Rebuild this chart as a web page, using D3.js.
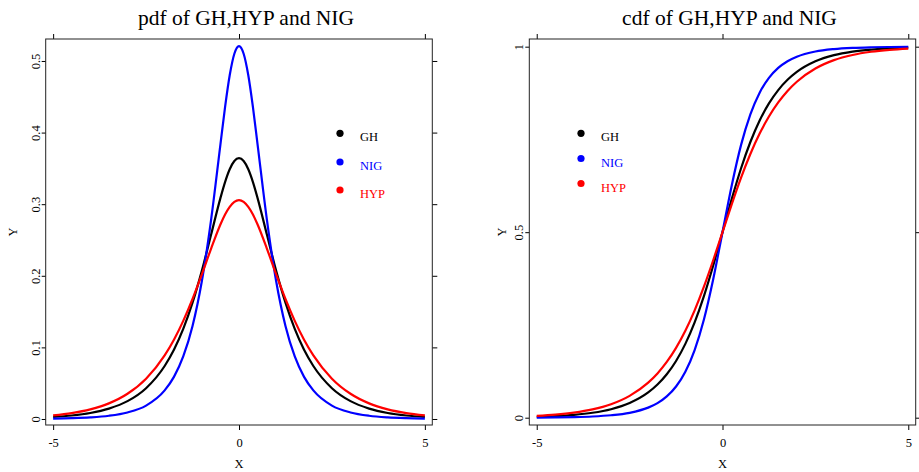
<!DOCTYPE html>
<html>
<head>
<meta charset="utf-8">
<script src="https://cdn.jsdelivr.net/npm/d3@7"></script>
<style>
  html, body { margin: 0; padding: 0; background: #ffffff; }
  svg { display: block; font-family: "Liberation Serif", "Times New Roman", serif; }
</style>
</head>
<body>
<svg id="chart" width="919" height="472"></svg>
<script>
// ---------- data ----------
const seriesNames = ["GH", "NIG", "HYP"];
const seriesColors = ["#000000", "#0000ff", "#ff0000"];

const pdfX = [-5, -4.5, -4, -3.5, -3, -2.5, -2, -1.75, -1.5, -1.25, -1, -0.75, -0.5, -0.375, -0.25, -0.125,
  0, 0.125, 0.25, 0.375, 0.5, 0.75, 1, 1.25, 1.5, 1.75, 2, 2.5, 3, 3.5, 4, 4.5, 5];
const pdfGH = [0.0029, 0.0049, 0.0084, 0.0145, 0.0249, 0.0430, 0.0740, 0.0967, 0.1258, 0.1625, 0.2069, 0.2576, 0.3085, 0.3309, 0.3488, 0.3603,
  0.3643, 0.3603, 0.3488, 0.3309, 0.3085, 0.2576, 0.2069, 0.1625, 0.1258, 0.0967, 0.0740, 0.0430, 0.0249, 0.0145, 0.0084, 0.0049, 0.0029];
const pdfNIG = [0.0006, 0.0012, 0.0023, 0.0045, 0.0091, 0.0187, 0.0399, 0.0588, 0.0873, 0.1299, 0.1923, 0.2785, 0.3833, 0.4355, 0.4800, 0.5101,
  0.5208, 0.5101, 0.4800, 0.4355, 0.3833, 0.2785, 0.1923, 0.1299, 0.0873, 0.0588, 0.0399, 0.0187, 0.0091, 0.0045, 0.0023, 0.0012, 0.0006];
const pdfHYP = [0.0051, 0.0083, 0.0135, 0.0218, 0.0352, 0.0563, 0.0888, 0.1107, 0.1370, 0.1676, 0.2020, 0.2380, 0.2716, 0.2855, 0.2963, 0.3032,
  0.3056, 0.3032, 0.2963, 0.2855, 0.2716, 0.2380, 0.2020, 0.1676, 0.1370, 0.1107, 0.0888, 0.0563, 0.0352, 0.0218, 0.0135, 0.0083, 0.0051];

const cdfX = [-5, -4.5, -4, -3.5, -3, -2.5, -2, -1.75, -1.5, -1.25, -1, -0.75, -0.5, -0.25,
  0, 0.25, 0.5, 0.75, 1, 1.25, 1.5, 1.75, 2, 2.5, 3, 3.5, 4, 4.5, 5];
const cdfGH = [0.0026, 0.0044, 0.0077, 0.0133, 0.0229, 0.0396, 0.0681, 0.0893, 0.1170, 0.1529, 0.1989, 0.2569, 0.3277, 0.4102,
  0.5, 0.5898, 0.6723, 0.7431, 0.8011, 0.8471, 0.8830, 0.9107, 0.9319, 0.9604, 0.9771, 0.9867, 0.9923, 0.9956, 0.9974];
const cdfNIG = [0.0003, 0.0008, 0.0016, 0.0032, 0.0065, 0.0131, 0.0271, 0.0392, 0.0573, 0.0841, 0.1239, 0.1824, 0.2647, 0.3733,
  0.5, 0.6267, 0.7353, 0.8176, 0.8761, 0.9159, 0.9427, 0.9608, 0.9729, 0.9869, 0.9935, 0.9968, 0.9984, 0.9992, 0.9997];
const cdfHYP = [0.0051, 0.0084, 0.0137, 0.0223, 0.0363, 0.0589, 0.0945, 0.1193, 0.1502, 0.1882, 0.2343, 0.2894, 0.3531, 0.4244,
  0.5, 0.5756, 0.6469, 0.7106, 0.7657, 0.8118, 0.8498, 0.8807, 0.9055, 0.9411, 0.9637, 0.9777, 0.9863, 0.9916, 0.9949];

const xTicks = [-5, 0, 5];
const xTickLabels = ["-5", "0", "5"];
const pdfYTicks = [0, 0.1, 0.2, 0.3, 0.4, 0.5];
const pdfYTickLabels = ["0", "0.1", "0.2", "0.3", "0.4", "0.5"];
const cdfYTicks = [0, 0.5, 1];
const cdfYTickLabels = ["0", "0.5", "1"];

const titles = ["pdf of GH,HYP and NIG", "cdf of GH,HYP and NIG"];

// ---------- drawing ----------
const svg = d3.select("#chart");

function panel(cfg) {
  const x = d3.scaleLinear().domain([-5.2, 5.2]).range([cfg.left, cfg.right]);
  const y = d3.scaleLinear().domain(cfg.yDomain).range([425, 39]);
  const g = svg.append("g");

  const styleAxis = sel => {
    sel.select(".domain").remove();
    sel.selectAll(".tick line").attr("stroke", "#000").attr("stroke-width", 1);
    sel.selectAll(".tick text").attr("font-family", "Liberation Serif, Times New Roman, serif")
      .attr("font-size", 12.5).attr("fill", "#000");
  };
  g.append("g").attr("transform", `translate(0,425)`)
    .call(d3.axisBottom(x).tickValues(xTicks).tickSize(5).tickPadding(8)
      .tickFormat((d, i) => xTickLabels[i]))
    .call(styleAxis);
  g.append("g").attr("transform", `translate(0,39)`)
    .call(d3.axisTop(x).tickValues(xTicks).tickSize(5).tickFormat(""))
    .call(styleAxis);
  const la = g.append("g").attr("transform", `translate(${cfg.left},0)`)
    .call(d3.axisLeft(y).tickValues(cfg.yTicks).tickSize(4).tickPadding(2)
      .tickFormat((d, i) => cfg.yLabels[i]))
    .call(styleAxis);
  la.selectAll(".tick text")
    .attr("x", null).attr("dy", null)
    .attr("text-anchor", "middle")
    .attr("transform", "translate(-6,0) rotate(-90)");
  g.append("g").attr("transform", `translate(${cfg.right},0)`)
    .call(d3.axisRight(y).tickValues(cfg.yTicks).tickSize(5).tickFormat(""))
    .call(styleAxis);

  g.append("rect")
    .attr("x", cfg.left).attr("y", 39)
    .attr("width", cfg.right - cfg.left).attr("height", 425 - 39)
    .attr("fill", "none").attr("stroke", "#222").attr("stroke-width", 1);

  const line = d3.line().x(d => x(d[0])).y(d => y(d[1])).curve(d3.curveMonotoneX);
  cfg.series.forEach((vals, k) => {
    g.append("path")
      .datum(cfg.xs.map((xv, i) => [xv, vals[i]]))
      .attr("d", line)
      .attr("fill", "none")
      .attr("stroke", seriesColors[k])
      .attr("stroke-width", 2.2)
      .attr("stroke-linejoin", "round");
  });

  g.append("text")
    .attr("x", x(0) + 7).attr("y", 25)
    .attr("text-anchor", "middle").attr("font-size", 21.5).attr("fill", "#000")
    .text(cfg.title);
  g.append("text")
    .attr("x", x(0)).attr("y", 468)
    .attr("text-anchor", "middle").attr("font-size", 12.5).attr("fill", "#000")
    .text("X");
  g.append("text")
    .attr("transform", `translate(${cfg.yLabelX},${y((cfg.yDomain[0] + cfg.yDomain[1]) / 2)}) rotate(-90)`)
    .attr("text-anchor", "middle").attr("font-size", 12.5).attr("fill", "#000")
    .text("Y");

  seriesNames.forEach((name, k) => {
    const ly = cfg.legendY[k];
    g.append("circle").attr("cx", cfg.legendX).attr("cy", ly).attr("r", 3.6)
      .attr("fill", seriesColors[k]);
    g.append("text").attr("x", cfg.legendX + 20).attr("y", ly + 8)
      .attr("font-size", 12.5).attr("fill", seriesColors[k]).text(name);
  });
}

panel({
  left: 45.7, right: 432.3, yDomain: [-0.0084, 0.5307],
  yTicks: pdfYTicks, yLabels: pdfYTickLabels,
  xs: pdfX, series: [pdfGH, pdfNIG, pdfHYP],
  title: titles[0], yLabelX: 17,
  legendX: 340, legendY: [133.3, 162, 190]
});
panel({
  left: 529.3, right: 915.7, yDomain: [-0.0197, 1.0207],
  yTicks: cdfYTicks, yLabels: cdfYTickLabels,
  xs: cdfX, series: [cdfGH, cdfNIG, cdfHYP],
  title: titles[1], yLabelX: 506,
  legendX: 581, legendY: [133.3, 158.5, 183.5]
});
</script>
</body>
</html>
